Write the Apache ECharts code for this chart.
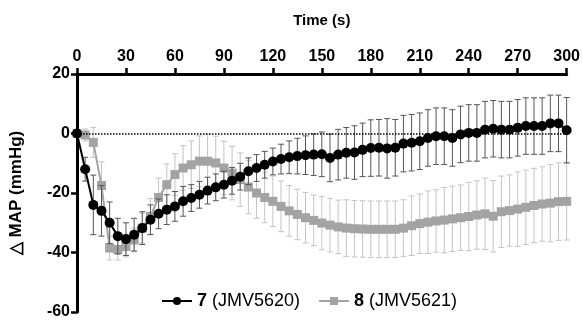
<!DOCTYPE html>
<html>
<head>
<meta charset="utf-8">
<script src="https://cdn.jsdelivr.net/npm/echarts@6/dist/echarts.min.js"></script>
<style>
  html, body { margin: 0; padding: 0; background: #fff; }
  #chart { width: 583px; height: 321px; }
</style>
</head>
<body>
<div id="chart"></div>
<script>
// time points (s)
const times = [0, 5, 10, 15, 20, 25, 30, 35, 40, 45, 50, 55, 60, 65, 70, 75, 80, 85, 90, 95,
  100, 105, 110, 115, 120, 125, 130, 135, 140, 145, 150, 155, 160, 165, 170, 175, 180, 185, 190, 195,
  200, 205, 210, 215, 220, 225, 230, 235, 240, 245, 250, 255, 260, 265, 270, 275, 280, 285, 290, 295, 300]

// 7 (JMV5620) mean and SEM
const mean7 = [0, -12, -24, -26, -30, -34.5, -35.5, -34, -31.8, -29, -27, -25.6, -24.5, -22.8, -21.7, -20.6, -19.2, -18.1, -17.2, -15.9,
  -14.5, -12.7, -11.6, -10.5, -9.4, -8.6, -8, -7.6, -7.3, -7.1, -7, -8.2, -7.1, -6.5, -6.4, -5.5, -4.9, -4.8, -5, -4.8,
  -3.4, -3.1, -2.6, -1.5, -0.9, -0.9, -1.5, -0.3, 0.2, 0.2, 1.3, 1.6, 1.3, 1.3, 1.9, 2.5, 2.5, 2.5, 3.4, 3.4, 1.1]
const err7 = [0, 4, 10, 8.5, 7, 6, 5.5, 5.5, 5.5, 5, 5, 5, 5, 5, 4.5, 4.5, 4.5, 4.5, 4.5, 4.5,
  4.5, 4.5, 4.5, 4.5, 4.5, 5, 5.5, 6, 6.5, 7, 7.5, 8, 8.5, 8.5, 9, 9, 9.5, 9.5, 10, 9.5,
  9.5, 9.5, 9.5, 9.5, 9.5, 9.5, 9.5, 9.5, 9.5, 9.5, 9.5, 9.5, 9.5, 9.5, 9.5, 9.5, 9.5, 9.5, 9.5, 9.5, 11]

// 8 (JMV5621) mean and SEM
const mean8 = [0, -0.5, -3, -17.5, -38.5, -39, -38, -35.8, -31.8, -27.9, -21.5, -17.2, -13.8, -11.6, -10.5, -9.3, -9.3, -9.9, -11.6, -13.3,
  -15.5, -18, -20, -21.5, -22.8, -24.5, -26, -27.2, -28.3, -29.2, -30.1, -30.8, -31.4, -31.8, -32, -32.1, -32.2, -32.2, -32.2, -32.2,
  -31.8, -31, -30.3, -29.8, -29.4, -29.1, -28.7, -28.3, -27.9, -27.4, -27, -27.8, -26.3, -25.9, -25.4, -24.8, -24.2, -23.7, -23.4, -22.9, -22.8]
const err8 = [0, 2, 5, 8, 4, 3.5, 3.5, 4, 5, 6, 6.5, 7, 7, 7.5, 8, 8.5, 9, 9, 9, 9,
  9, 9, 8.5, 8.5, 8.5, 8.5, 8.5, 8.5, 8.5, 8.5, 9, 9, 9, 9.5, 9.5, 9.5, 9.5, 9.5, 9.5, 9.5,
  9.5, 10, 10, 10.5, 10.5, 11, 11, 11, 11.5, 11.5, 12, 12, 12, 12, 12.5, 12.5, 12.5, 12.5, 13, 13, 13]

const xTicks = [0, 300, 30]
const yTicks = [-60, 20, 20]

const font = 'Liberation Sans, Arial, sans-serif'

function zip(a, b) { return times.map((t, i) => [t, a[i], b ? b[i] : 0]) }

function errorBars(color) {
  return function (params, api) {
    const x = api.value(0)
    const y = api.value(1)
    const e = api.value(2)
    if (!e) return null
    const top = api.coord([x, y + e])
    const bot = api.coord([x, y - e])
    const hw = 3
    const style = { stroke: color, lineWidth: 1 }
    return {
      type: 'group',
      children: [
        { type: 'line', shape: { x1: top[0], y1: top[1], x2: bot[0], y2: bot[1] }, style },
        { type: 'line', shape: { x1: top[0] - hw, y1: top[1], x2: top[0] + hw, y2: top[1] }, style },
        { type: 'line', shape: { x1: bot[0] - hw, y1: bot[1], x2: bot[0] + hw, y2: bot[1] }, style },
      ],
    }
  }
}

const chart = echarts.init(document.getElementById('chart'))

chart.setOption({
  animation: false,
  grid: { left: 75, right: 14, top: 74, bottom: 9 },
  textStyle: { fontFamily: font },
  legend: {
    data: ['7 (JMV5620)', '8 (JMV5621)'],
    left: 156,
    bottom: 6,
    itemWidth: 30,
    itemHeight: 10,
    itemGap: 18,
    selectedMode: false,
    formatter(name) {
      const parts = name.split(' ')
      return '{b|' + parts[0] + '} ' + parts[1]
    },
    textStyle: {
      fontFamily: font,
      fontSize: 18,
      color: '#000',
      rich: { b: { fontWeight: 'bold', fontSize: 18, fontFamily: font, color: '#000' } },
    },
  },
  xAxis: {
    type: 'value',
    position: 'top',
    min: xTicks[0],
    max: xTicks[1],
    interval: xTicks[2],
    name: 'Time (s)',
    nameLocation: 'middle',
    nameGap: 46,
    nameTextStyle: { fontFamily: font, fontWeight: 'bold', fontSize: 15, color: '#000' },
    axisLine: { onZero: false, lineStyle: { color: '#000', width: 3 } },
    axisTick: { length: 6, lineStyle: { color: '#000', width: 2.5 } },
    axisLabel: { margin: 9, fontFamily: font, fontWeight: 'bold', fontSize: 16, color: '#000' },
    splitLine: { show: false },
  },
  yAxis: {
    type: 'value',
    min: yTicks[0],
    max: yTicks[1],
    interval: yTicks[2],
    name: '△ MAP (mmHg)',
    nameLocation: 'middle',
    nameGap: 44,
    nameTextStyle: { fontFamily: font, fontWeight: 'bold', fontSize: 17, color: '#000', padding: [0, 0, 8, 0] },
    axisLine: { show: true, onZero: false, lineStyle: { color: '#000', width: 3 } },
    axisTick: { show: true, length: 6, lineStyle: { color: '#000', width: 2.5 } },
    axisLabel: { margin: 7, fontFamily: font, fontWeight: 'bold', fontSize: 16, color: '#000' },
    splitLine: { show: false },
  },
  series: [
    {
      name: 'err8',
      type: 'custom',
      renderItem: errorBars('#c4c4c4'),
      data: zip(mean8, err8),
      encode: { x: 0, y: 1 },
      silent: true,
      z: 1,
    },
    {
      name: '8 (JMV5621)',
      type: 'line',
      data: zip(mean8).map(d => [d[0], d[1]]),
      symbol: 'rect',
      symbolSize: 9,
      color: '#a3a3a3',
      lineStyle: { color: '#a3a3a3', width: 2 },
      itemStyle: { color: '#a3a3a3' },
      z: 2,
    },
    {
      name: 'err7',
      type: 'custom',
      renderItem: errorBars('#555555'),
      data: zip(mean7, err7),
      encode: { x: 0, y: 1 },
      silent: true,
      z: 3,
    },
    {
      name: '7 (JMV5620)',
      type: 'line',
      data: zip(mean7).map(d => [d[0], d[1]]),
      symbol: 'circle',
      symbolSize: 10,
      color: '#000',
      lineStyle: { color: '#000', width: 2 },
      itemStyle: { color: '#000' },
      z: 4,
      markLine: {
        silent: true,
        symbol: 'none',
        label: { show: false },
        lineStyle: { color: '#000', type: 'dotted', width: 1.5 },
        data: [{ yAxis: 0 }],
      },
    },
  ],
})
</script>
</body>
</html>
